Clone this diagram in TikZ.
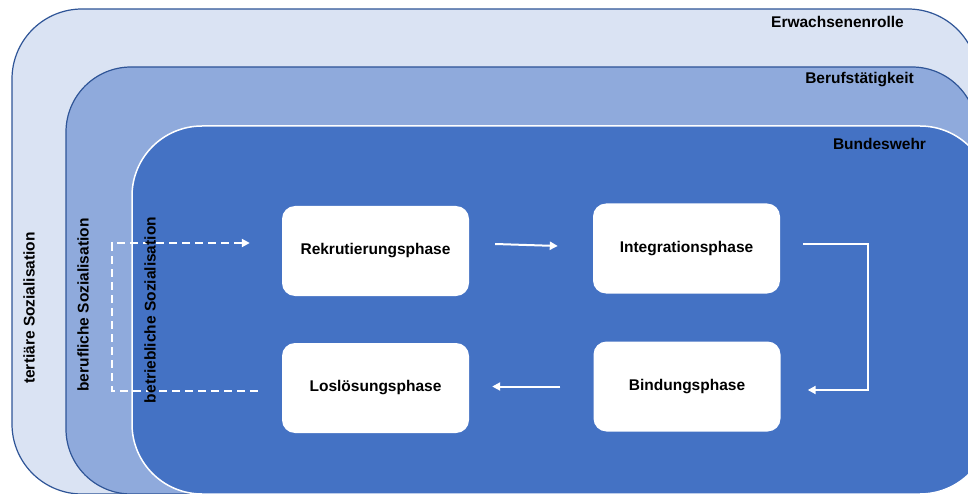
\documentclass[tikz,border=0pt]{standalone}
\usepackage{fontspec}
\setmainfont{Liberation Sans}
\usetikzlibrary{arrows.meta}
\definecolor{lay1}{HTML}{DAE3F3}
\definecolor{lay2}{HTML}{8FAADC}
\definecolor{lay3}{HTML}{4472C4}
\definecolor{layedge}{HTML}{2F5597}
\tikzset{
  layer/.style={line width=1.2pt},
  phasebox/.style={fill=white, draw=none, rounded corners=13pt, minimum width=187pt, minimum height=90pt, inner sep=0pt, font=\bfseries\fontsize{15.5}{18}\selectfont},
  lbl/.style={font=\bfseries\fontsize{15.5}{18}\selectfont, inner sep=0pt},
  vlbl/.style={font=\bfseries\fontsize{15.5}{18}\selectfont, inner sep=0pt, rotate=90},
  flow/.style={draw=white, line width=2pt, -{Triangle[length=8pt,width=8pt]}},
  dflow/.style={draw=white, line width=2.5pt, dash pattern=on 8pt off 5pt, -{Triangle[length=8pt,width=8pt]}}
}
\begin{document}
\begin{tikzpicture}[x=1pt,y=-1pt]
\useasboundingbox (0,0) rectangle (968,494);
\clip (0,0) rectangle (968,494);
% layers
\draw[layer, fill=lay1, draw=layedge, rounded corners=70pt] (12,9) rectangle (978,494);
\draw[layer, fill=lay2, draw=layedge, rounded corners=65pt] (66,67) rectangle (977,494);
\draw[line width=1.5pt, fill=lay3, draw=white, rounded corners=70pt] (132,126) rectangle (990,494);
% layer labels
\node[lbl] (erw) at (837.5,22) {Erwachsenenrolle};
\node[lbl] (ber) at (859.5,80) {Berufstätigkeit};
\node[lbl] (bun) at (879.5,144) {Bundeswehr};
\node[vlbl] (ter) at (29,308) {tertiäre Sozialisation};
\node[vlbl] (bso) at (83,305) {berufliche Sozialisation};
% phases
\node[phasebox] (rek) at (375.5,251) {Rekrutierungsphase};
\node[phasebox] (int) at (686.5,248.5) {Integrationsphase};
\node[phasebox] (los) at (375.5,388) {Loslösungsphase};
\node[phasebox] (bin) at (687,386.5) {Bindungsphase};
% connectors
\draw[flow] ([xshift=26pt,yshift=7pt]rek.east) -- ([xshift=-35pt,yshift=2.5pt]int.west);
\draw[flow] ([xshift=23pt,yshift=4.5pt]int.east) -- ++(65,0) |- ([xshift=27pt,yshift=-3.5pt]bin.east);
\draw[flow] ([xshift=-33pt]bin.west) -- ([xshift=23pt,yshift=1.5pt]los.east);
\coordinate (dl) at (112,391);
\draw[dflow] ([xshift=-24pt,yshift=-3pt]los.west) -- (dl) |- ([xshift=-32pt,yshift=8pt]rek.west);
\node[vlbl] (bet) at (150,310) {betriebliche Sozialisation};
\end{tikzpicture}
\end{document}
